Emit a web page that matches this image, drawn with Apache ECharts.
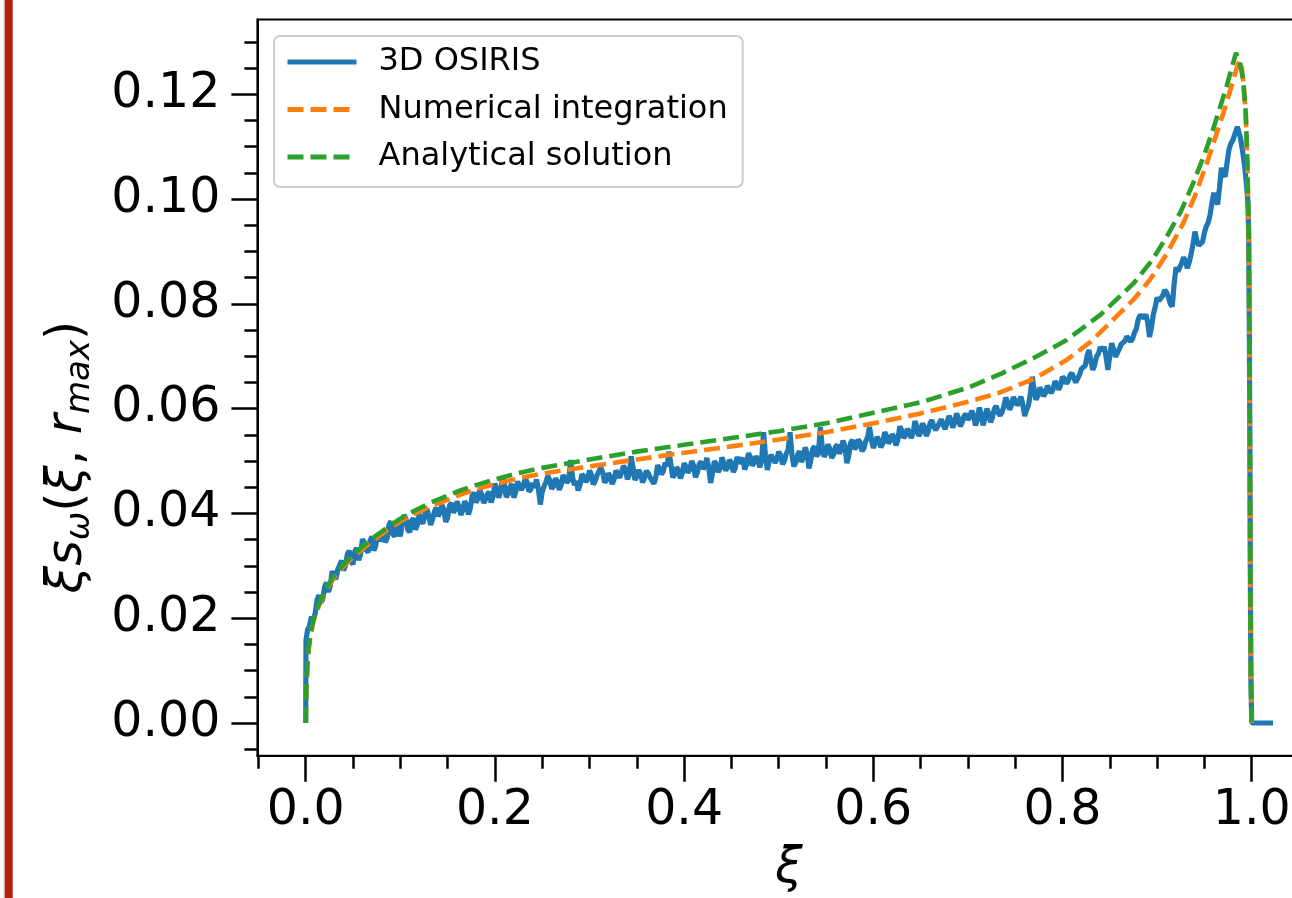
<!DOCTYPE html>
<html>
<head>
<meta charset="utf-8">
<script src="https://cdn.jsdelivr.net/npm/echarts@6/dist/echarts.min.js"></script>
<style>
  html, body { margin: 0; padding: 0; background: #ffffff; }
  #chart { width: 1292px; height: 898px; }
</style>
</head>
<body>
<div id="chart"></div>
<script>
// Tick positions
const X_MAJOR = [0, 0.2, 0.4, 0.6, 0.8, 1.0];
const X_MINOR = [-0.05, 0.05, 0.1, 0.15, 0.25, 0.3, 0.35, 0.45, 0.5, 0.55, 0.65, 0.7, 0.75, 0.85, 0.9, 0.95, 1.05];
const Y_MAJOR = [0, 0.02, 0.04, 0.06, 0.08, 0.10, 0.12];
const Y_MINOR = [-0.005, 0.005, 0.01, 0.015, 0.025, 0.03, 0.035, 0.045, 0.05, 0.055,
                 0.065, 0.07, 0.075, 0.085, 0.09, 0.095, 0.105, 0.11, 0.115, 0.125, 0.13];

const SERIES_NAMES = ['3D OSIRIS', 'Numerical integration', 'Analytical solution'];

// 3D OSIRIS: leading jump, then samples on a 0.002 grid in xi
// (OSIRIS_EVEN at 0.004, 0.008, ...; OSIRIS_ODD at 0.002, 0.006, ...), then the peak and cut-off
const OSIRIS_HEAD = [[0, 0], [0.0003, 0.0158]];
const OSIRIS_STEP = 0.004;
const OSIRIS_EVEN = [
  0.0185, 0.0197, 0.0235, 0.0230, 0.0260, 0.0250, 0.0290, 0.0275, 0.0302, 0.0291,
  0.0322, 0.0308, 0.0328, 0.0311, 0.0351, 0.0330, 0.0348, 0.0329, 0.0361, 0.0355,
  0.0345, 0.0378, 0.0361, 0.0379, 0.0356, 0.0397, 0.0369, 0.0386, 0.0369, 0.0399,
  0.0381, 0.0409, 0.0378, 0.0403, 0.0395, 0.0416, 0.0384, 0.0415, 0.0402, 0.0423,
  0.0397, 0.0423, 0.0398, 0.0434, 0.0421, 0.0445, 0.0420, 0.0437, 0.0421, 0.0457,
  0.0430, 0.0469, 0.0431, 0.0451, 0.0430, 0.0461, 0.0445, 0.0468, 0.0442, 0.0458,
  0.0465, 0.0417, 0.0452, 0.0472, 0.0447, 0.0467, 0.0445, 0.0473, 0.0459, 0.0502,
  0.0454, 0.0444, 0.0475, 0.0460, 0.0482, 0.0455, 0.0473, 0.0488, 0.0459, 0.0477,
  0.0456, 0.0482, 0.0468, 0.0491, 0.0465, 0.0509, 0.0464, 0.0483, 0.0459, 0.0481,
  0.0469, 0.0457, 0.0492, 0.0475, 0.0497, 0.0518, 0.0469, 0.0488, 0.0467, 0.0496,
  0.0478, 0.0500, 0.0469, 0.0494, 0.0485, 0.0506, 0.0458, 0.0500, 0.0479, 0.0507,
  0.0482, 0.0502, 0.0479, 0.0508, 0.0501, 0.0484, 0.0515, 0.0491, 0.0509, 0.0488,
  0.0555, 0.0483, 0.0512, 0.0497, 0.0518, 0.0494, 0.0514, 0.0555, 0.0490, 0.0512,
  0.0498, 0.0526, 0.0486, 0.0523, 0.0509, 0.0565, 0.0508, 0.0532, 0.0506, 0.0527,
  0.0514, 0.0539, 0.0496, 0.0535, 0.0523, 0.0541, 0.0519, 0.0538, 0.0565, 0.0525,
  0.0546, 0.0526, 0.0555, 0.0534, 0.0551, 0.0530, 0.0566, 0.0544, 0.0561, 0.0544,
  0.0576, 0.0548, 0.0572, 0.0548, 0.0572, 0.0566, 0.0560, 0.0580, 0.0561, 0.0586,
  0.0564, 0.0591, 0.0566, 0.0586, 0.0579, 0.0596, 0.0568, 0.0602, 0.0568, 0.0600,
  0.0574, 0.0600, 0.0592, 0.0593, 0.0621, 0.0598, 0.0622, 0.0607, 0.0623, 0.0586,
  0.0606, 0.0661, 0.0617, 0.0640, 0.0624, 0.0644, 0.0630, 0.0652, 0.0636, 0.0661,
  0.0648, 0.0664, 0.0658, 0.0648, 0.0676, 0.0682, 0.0712, 0.0674, 0.0700, 0.0718,
  0.0718, 0.0674, 0.0725, 0.0699, 0.0714, 0.0726, 0.0738, 0.0728, 0.0745, 0.0770,
  0.0776, 0.0780, 0.0737, 0.0780, 0.0812, 0.0808, 0.0826, 0.0812, 0.0795, 0.0870,
  0.0860, 0.0889, 0.0868, 0.0895, 0.0938, 0.0912, 0.0918, 0.0948, 0.0970, 0.1012,
  0.0990, 0.1060, 0.1043, 0.1095, 0.1112
];
const OSIRIS_ODD = [
  0.0178, 0.0203, 0.0209, 0.0244, 0.0236, 0.0268, 0.0262, 0.0279, 0.0294, 0.0310,
  0.0300, 0.0329, 0.0303, 0.0334, 0.0322, 0.0344, 0.0326, 0.0356, 0.0338, 0.0347,
  0.0363, 0.0352, 0.0385, 0.0356, 0.0372, 0.0381, 0.0390, 0.0364, 0.0391, 0.0378,
  0.0386, 0.0398, 0.0396, 0.0388, 0.0411, 0.0401, 0.0408, 0.0392, 0.0420, 0.0407,
  0.0412, 0.0406, 0.0417, 0.0410, 0.0440, 0.0428, 0.0436, 0.0426, 0.0441, 0.0433,
  0.0446, 0.0441, 0.0455, 0.0437, 0.0456, 0.0441, 0.0464, 0.0452, 0.0460, 0.0446,
  0.0449, 0.0446, 0.0441, 0.0460, 0.0463, 0.0452, 0.0461, 0.0454, 0.0468, 0.0463,
  0.0470, 0.0462, 0.0455, 0.0471, 0.0465, 0.0474, 0.0462, 0.0470, 0.0478, 0.0464,
  0.0470, 0.0465, 0.0479, 0.0471, 0.0484, 0.0474, 0.0488, 0.0470, 0.0476, 0.0467,
  0.0477, 0.0472, 0.0468, 0.0486, 0.0480, 0.0490, 0.0494, 0.0474, 0.0483, 0.0476,
  0.0489, 0.0484, 0.0492, 0.0478, 0.0499, 0.0490, 0.0488, 0.0476, 0.0493, 0.0486,
  0.0496, 0.0488, 0.0497, 0.0486, 0.0496, 0.0506, 0.0493, 0.0508, 0.0497, 0.0503,
  0.0503, 0.0510, 0.0501, 0.0515, 0.0503, 0.0511, 0.0500, 0.0522, 0.0512, 0.0497,
  0.0519, 0.0507, 0.0515, 0.0502, 0.0528, 0.0514, 0.0527, 0.0515, 0.0524, 0.0512,
  0.0531, 0.0522, 0.0528, 0.0510, 0.0540, 0.0527, 0.0536, 0.0524, 0.0546, 0.0541,
  0.0533, 0.0540, 0.0533, 0.0548, 0.0539, 0.0546, 0.0541, 0.0559, 0.0549, 0.0556,
  0.0553, 0.0566, 0.0554, 0.0565, 0.0556, 0.0578, 0.0559, 0.0573, 0.0568, 0.0574,
  0.0579, 0.0573, 0.0582, 0.0574, 0.0590, 0.0584, 0.0587, 0.0580, 0.0590, 0.0581,
  0.0591, 0.0584, 0.0605, 0.0587, 0.0604, 0.0613, 0.0606, 0.0616, 0.0611, 0.0608,
  0.0598, 0.0628, 0.0636, 0.0625, 0.0634, 0.0630, 0.0641, 0.0637, 0.0648, 0.0645,
  0.0657, 0.0653, 0.0668, 0.0650, 0.0665, 0.0674, 0.0701, 0.0690, 0.0683, 0.0705,
  0.0710, 0.0700, 0.0702, 0.0713, 0.0702, 0.0723, 0.0729, 0.0737, 0.0733, 0.0752,
  0.0779, 0.0773, 0.0765, 0.0755, 0.0794, 0.0806, 0.0816, 0.0822, 0.0800, 0.0838,
  0.0862, 0.0878, 0.0881, 0.0880, 0.0915, 0.0921, 0.0910, 0.0936, 0.0955, 0.0993,
  0.0997, 0.1022, 0.1048, 0.1070, 0.1106
];
const OSIRIS_TAIL = [
  [0.9848, 0.1138], [0.988, 0.1118], [0.9905, 0.1090], [0.993, 0.1056], [0.9958, 0.1000],
  [0.9968, 0.0941], [0.9975, 0.0750], [0.998, 0.0560], [0.9985, 0.0300], [0.9992, 0.0080],
  [1.0, 0], [1.0225, 0]
];

// Numerical integration
const NUMERICAL = [
  [0, 0], [0.0005, 0.0057], [0.001, 0.0078], [0.002, 0.0114], [0.003, 0.0138], [0.005, 0.0166],
  [0.0075, 0.0188], [0.01, 0.0205], [0.015, 0.0228], [0.02, 0.0248], [0.024, 0.0261], [0.03, 0.0277],
  [0.04, 0.0299], [0.05, 0.0317], [0.06, 0.0332], [0.07, 0.0347], [0.08, 0.0360], [0.09, 0.0373],
  [0.1, 0.0385], [0.115, 0.0399], [0.13, 0.0412], [0.15, 0.0426], [0.165, 0.0437], [0.18, 0.0446],
  [0.2, 0.0456], [0.225, 0.0467], [0.25, 0.0476], [0.3, 0.0490], [0.35, 0.0503], [0.4, 0.0516],
  [0.45, 0.0528], [0.5, 0.0541], [0.55, 0.0555], [0.6, 0.0572], [0.65, 0.0591], [0.7, 0.0613],
  [0.734, 0.0631], [0.77, 0.0657], [0.8044, 0.0693], [0.83, 0.0728], [0.857, 0.0776], [0.875, 0.0808],
  [0.8925, 0.0846], [0.91, 0.0895], [0.9277, 0.0954], [0.94, 0.1006], [0.9524, 0.1068], [0.962, 0.1120],
  [0.970, 0.1164], [0.9806, 0.1227], [0.9845, 0.1252], [0.987, 0.1265], [0.9895, 0.1250], [0.991, 0.1227],
  [0.9937, 0.1164], [0.9954, 0.1069], [0.9968, 0.0941], [0.9975, 0.0750], [0.998, 0.0560],
  [0.9985, 0.0300], [0.9992, 0.0080], [1.0, 0]
];

// Analytical solution
const ANALYTICAL = [
  [0, 0], [0.0005, 0.0060], [0.001, 0.0082], [0.002, 0.0118], [0.003, 0.0142], [0.005, 0.0170],
  [0.0075, 0.0192], [0.01, 0.0209], [0.015, 0.0232], [0.02, 0.0252], [0.024, 0.0265], [0.03, 0.0281],
  [0.04, 0.0303], [0.05, 0.0321], [0.06, 0.0337], [0.07, 0.0352], [0.08, 0.0365], [0.09, 0.0378],
  [0.1, 0.0390], [0.115, 0.0405], [0.13, 0.0419], [0.15, 0.0434], [0.165, 0.0445], [0.18, 0.0454],
  [0.2, 0.0465], [0.225, 0.0477], [0.25, 0.0487], [0.3, 0.0503], [0.35, 0.0518], [0.4, 0.0531],
  [0.45, 0.0544], [0.5, 0.0557], [0.55, 0.0572], [0.6, 0.0592], [0.65, 0.0612], [0.7, 0.0640],
  [0.734, 0.0666], [0.77, 0.0697], [0.8044, 0.0731], [0.84, 0.0779], [0.875, 0.0839], [0.895, 0.0884],
  [0.91, 0.0928], [0.925, 0.0976], [0.938, 0.1030], [0.95, 0.1085], [0.959, 0.1132], [0.967, 0.1178],
  [0.9735, 0.1215], [0.979, 0.1251], [0.9834, 0.1279], [0.9875, 0.1262], [0.991, 0.1227],
  [0.9937, 0.1164], [0.9954, 0.1069], [0.9968, 0.0941], [0.9975, 0.0750], [0.998, 0.0560],
  [0.9985, 0.0300], [0.9992, 0.0080], [1.0, 0]
];

// Interleave the two sample sets in xi order
const osiris = OSIRIS_HEAD.slice();
OSIRIS_EVEN.forEach((v, i) => {
  osiris.push([+(OSIRIS_STEP * i + OSIRIS_STEP / 2).toFixed(4), OSIRIS_ODD[i]]);
  osiris.push([+(OSIRIS_STEP * (i + 1)).toFixed(4), v]);
});
OSIRIS_TAIL.forEach(p => osiris.push(p));

const FONT = 'DejaVu Sans';
const X_RANGE = [-0.05106, 1.07357];
const Y_RANGE = [-0.00624, 0.13428];

const chart = echarts.init(document.getElementById('chart'), null, { renderer: 'canvas' });

const baseAxis = {
  type: 'value',
  splitLine: { show: false },
  axisLine: { show: true, onZero: false, lineStyle: { color: '#000', width: 2 } }
};
const hiddenLine = { show: false, onZero: false };

chart.setOption({
  animation: false,
  backgroundColor: '#ffffff',
  grid: {
    left: 257.4, top: 19.5, width: 1063.9, height: 736.2,
    outerBoundsMode: 'none', containLabel: false,
    show: true, borderColor: '#000', borderWidth: 2, backgroundColor: 'transparent'
  },
  xAxis: [
    Object.assign({}, baseAxis, {
      min: X_RANGE[0], max: X_RANGE[1], position: 'bottom',
      axisTick: { show: true, length: 26, customValues: X_MAJOR, lineStyle: { color: '#000', width: 2.5 } },
      axisLabel: {
        customValues: X_MAJOR, margin: 31, color: '#000', fontSize: 49, fontFamily: FONT,
        formatter: v => v.toFixed(1)
      }
    }),
    Object.assign({}, baseAxis, {
      min: X_RANGE[0], max: X_RANGE[1], position: 'bottom',
      axisLine: hiddenLine,
      axisTick: { show: true, length: 13, customValues: X_MINOR, lineStyle: { color: '#000', width: 2.5 } },
      axisLabel: { show: false }
    })
  ],
  yAxis: [
    Object.assign({}, baseAxis, {
      min: Y_RANGE[0], max: Y_RANGE[1], position: 'left',
      axisTick: { show: true, length: 26, customValues: Y_MAJOR, lineStyle: { color: '#000', width: 2.5 } },
      axisLabel: {
        customValues: Y_MAJOR, margin: 37, color: '#000', fontSize: 49, fontFamily: FONT,
        formatter: v => v.toFixed(2)
      }
    }),
    Object.assign({}, baseAxis, {
      min: Y_RANGE[0], max: Y_RANGE[1], position: 'left',
      axisLine: hiddenLine,
      axisTick: { show: true, length: 13, customValues: Y_MINOR, lineStyle: { color: '#000', width: 2.5 } },
      axisLabel: { show: false }
    })
  ],
  legend: {
    orient: 'vertical',
    left: 274, top: 36,
    itemWidth: 69, itemHeight: 20, itemGap: 15.5,
    padding: [10, 15, 14, 11],
    backgroundColor: 'rgba(255,255,255,0.8)',
    borderColor: '#cccccc', borderWidth: 2, borderRadius: 6,
    itemStyle: { opacity: 0 },
    lineStyle: { width: 5 },
    textStyle: { fontSize: 32, fontFamily: FONT, color: '#000', lineHeight: 32, padding: [0, 0, 0, 17] },
    data: SERIES_NAMES
  },
  graphic: [
    { type: 'rect', shape: { x: 3.5, y: 0, width: 1.5, height: 898 }, style: { fill: '#e3b1a8' } },
    { type: 'rect', shape: { x: 5, y: 0, width: 7.7, height: 898 }, style: { fill: '#b51f0c' } },
    {
      type: 'text', x: 68, y: 457, rotation: Math.PI / 2,
      style: {
        text: '{m|ξs}{sub|ω}{p|(}{m|ξ}{p|, }{m|r}{sub|max}{p|)}',
        align: 'center', verticalAlign: 'middle',
        rich: {
          m: { fontSize: 49, fontFamily: FONT, fontStyle: 'italic', fill: '#000' },
          p: { fontSize: 49, fontFamily: FONT, fill: '#000' },
          sub: { fontSize: 34, fontFamily: FONT, fontStyle: 'italic', fill: '#000', padding: [24, 0, 0, 0] }
        }
      }
    },
    {
      type: 'text', x: 789, y: 869,
      style: { text: 'ξ', font: 'italic 49px "DejaVu Sans"', fill: '#000', align: 'center', verticalAlign: 'middle' }
    }
  ],
  series: [
    {
      name: SERIES_NAMES[0], type: 'line', data: osiris, symbol: 'none', showSymbol: false,
      sampling: null,
      lineStyle: { color: '#1f77b4', width: 5.2 }, itemStyle: { color: '#1f77b4' }
    },
    {
      name: SERIES_NAMES[1], type: 'line', data: NUMERICAL, symbol: 'none', showSymbol: false,
      lineStyle: { color: '#ff7f0e', width: 4.6, type: [16, 7] }, itemStyle: { color: '#ff7f0e' }
    },
    {
      name: SERIES_NAMES[2], type: 'line', data: ANALYTICAL, symbol: 'none', showSymbol: false,
      lineStyle: { color: '#2ca02c', width: 4.6, type: [16, 7] }, itemStyle: { color: '#2ca02c' }
    }
  ]
});
</script>
</body>
</html>
